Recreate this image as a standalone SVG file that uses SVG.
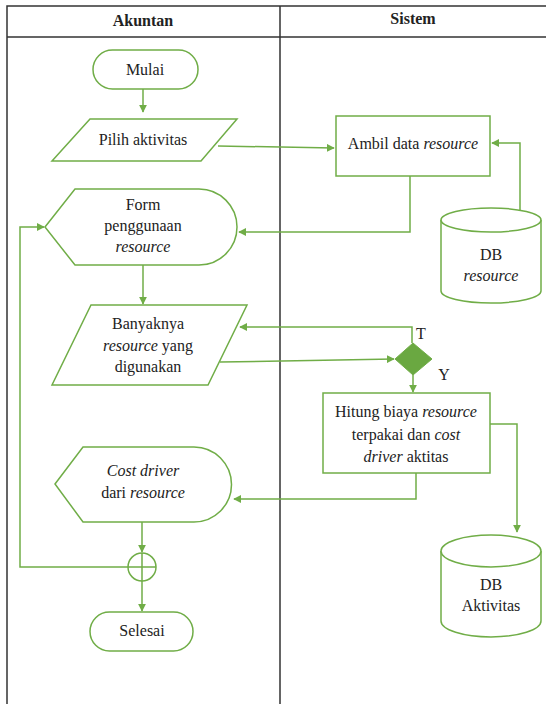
<svg xmlns="http://www.w3.org/2000/svg" width="546" height="704" viewBox="0 0 546 704">
<style>
text{font-family:"Liberation Serif","DejaVu Serif",serif;font-size:16px;fill:#222;text-anchor:middle}
.h{font-weight:bold}
.i{font-style:italic}
.s{fill:#fff;stroke:#70ad47;stroke-width:1.5}
.c{fill:none;stroke:#70ad47;stroke-width:1.5}
.t{fill:none;stroke:#333;stroke-width:1.5}
</style>
<defs>
<marker id="a" viewBox="0 0 10 10" refX="9" refY="5" markerWidth="8" markerHeight="8" markerUnits="userSpaceOnUse" orient="auto"><path d="M0,0L10,5L0,10z" fill="#70ad47"/></marker>
</defs>
<rect width="546" height="704" fill="#fff"/>
<g id="table">
<path class="t" d="M7,704V6H546M7,37H546M280,6V704"/>
<text class="h" x="143" y="26">Akuntan</text>
<text class="h" x="413" y="24">Sistem</text>
</g>
<g id="connectors">
<path class="c" d="M143,89V112" marker-end="url(#a)"/>
<path class="c" d="M218,146L334,148" marker-end="url(#a)"/>
<path class="c" d="M520,210V143H492" marker-end="url(#a)"/>
<path class="c" d="M410,176V232H239" marker-end="url(#a)"/>
<path class="c" d="M143,265V304" marker-end="url(#a)"/>
<path class="c" d="M412,343V327H240" marker-end="url(#a)"/>
<path class="c" d="M220,362L394,359" marker-end="url(#a)"/>
<path class="c" d="M413,375V392" marker-end="url(#a)"/>
<path class="c" d="M490,424H517V532" marker-end="url(#a)"/>
<path class="c" d="M416,473V499H234" marker-end="url(#a)"/>
<path class="c" d="M142,522V552" marker-end="url(#a)"/>
<path class="c" d="M128,567H20V227H44" marker-end="url(#a)"/>
<path class="c" d="M142,581V611" marker-end="url(#a)"/>
</g>
<g id="mulai">
<rect class="s" x="93" y="50" width="105" height="39" rx="19.5"/>
<text x="145" y="75">Mulai</text>
</g>
<g id="pilih">
<path class="s" d="M90,119H237L201,161H52z"/>
<text x="143" y="145">Pilih aktivitas</text>
</g>
<g id="ambil">
<rect class="s" x="336" y="116" width="154" height="60"/>
<text x="413" y="149">Ambil data <tspan class="i">resource</tspan></text>
</g>
<g id="dbresource">
<path class="s" d="M441,220V291A50,12 0 0 0 541,291V220"/>
<ellipse class="s" cx="491" cy="220" rx="50" ry="12"/>
<text x="491" y="260">DB</text>
<text class="i" x="491" y="281">resource</text>
</g>
<g id="form">
<path class="s" d="M45,227L75,189H199A38,38 0 0 1 199,265H75z"/>
<text x="143" y="210">Form</text>
<text x="143" y="231">penggunaan</text>
<text class="i" x="143" y="252">resource</text>
</g>
<g id="banyaknya">
<path class="s" d="M91,305H247L208,385H52z"/>
<text x="148" y="329">Banyaknya</text>
<text x="148" y="351"><tspan class="i">resource</tspan> yang</text>
<text x="148" y="372">digunakan</text>
</g>
<g id="decision">
<path d="M413,343L432,359L413,375L395,359z" fill="#6aa841" stroke="#70ad47"/>
<text x="421" y="339">T</text>
<text x="444" y="380">Y</text>
</g>
<g id="hitung">
<rect class="s" x="323" y="393" width="167" height="80"/>
<text x="406" y="417">Hitung biaya <tspan class="i">resource</tspan></text>
<text x="406" y="440">terpakai dan <tspan class="i">cost</tspan></text>
<text x="406" y="462"><tspan class="i">driver</tspan> aktitas</text>
</g>
<g id="dbaktivitas">
<path class="s" d="M441,551V621A50,16 0 0 0 541,621V551"/>
<ellipse class="s" cx="491" cy="551" rx="50" ry="16"/>
<text x="491" y="590">DB</text>
<text x="491" y="611">Aktivitas</text>
</g>
<g id="costdriver">
<path class="s" d="M55,484L83,447H194A37.5,37.5 0 0 1 194,522H83z"/>
<text class="i" x="143" y="476">Cost driver</text>
<text x="143" y="498">dari <tspan class="i">resource</tspan></text>
</g>
<g id="merge">
<circle class="s" cx="142" cy="567" r="14"/>
<path class="c" d="M128,567H156M142,553V581"/>
</g>
<g id="selesai">
<rect class="s" x="90" y="612" width="103" height="39" rx="19.5"/>
<text x="142" y="636">Selesai</text>
</g>
</svg>
